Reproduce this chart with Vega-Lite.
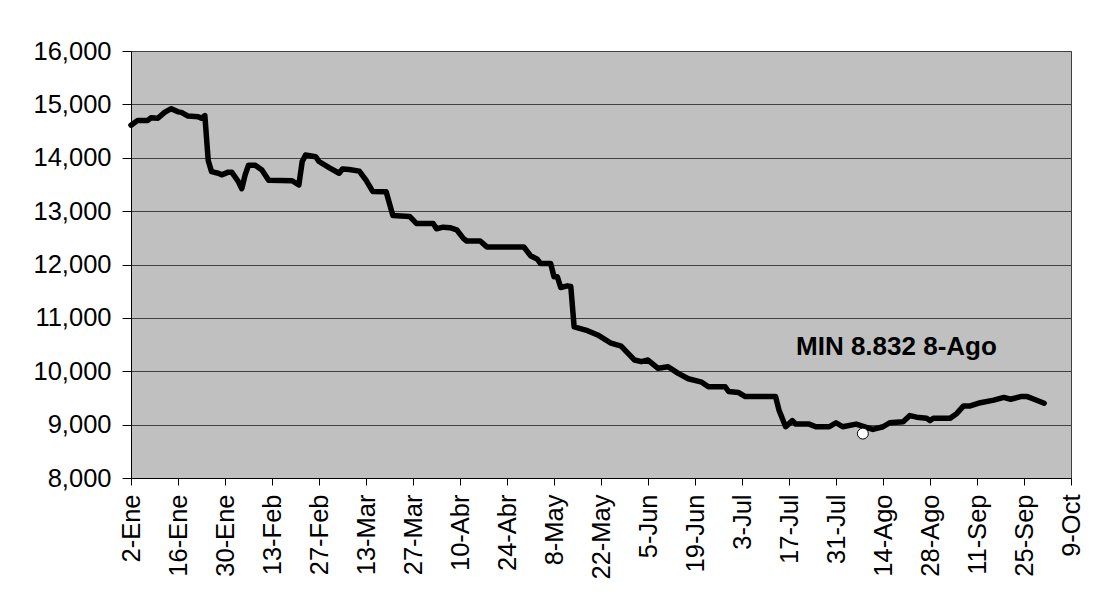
{
  "$schema": "https://vega.github.io/schema/vega-lite/v6.json",
  "width": 940,
  "height": 427,
  "autosize": "none",
  "padding": {"left": 131, "top": 51, "right": 33, "bottom": 125},
  "background": "white",
  "config": {
    "font": "Liberation Sans",
    "view": {"fill": "#C0C0C0", "stroke": "#404040", "strokeWidth": 1},
    "axis": {"labelFont": "Liberation Sans", "labelColor": "black", "domainColor": "black", "tickColor": "black", "gridColor": "#404040", "gridOpacity": 1, "gridWidth": 1}
  },
  "datasets": {
    "series": [
      {"date": "2001-01-02", "value": 14610},
      {"date": "2001-01-04", "value": 14700},
      {"date": "2001-01-07", "value": 14700},
      {"date": "2001-01-08", "value": 14750},
      {"date": "2001-01-10", "value": 14740},
      {"date": "2001-01-12", "value": 14850},
      {"date": "2001-01-14", "value": 14920},
      {"date": "2001-01-16", "value": 14860},
      {"date": "2001-01-17", "value": 14850},
      {"date": "2001-01-19", "value": 14780},
      {"date": "2001-01-22", "value": 14770},
      {"date": "2001-01-23", "value": 14740},
      {"date": "2001-01-24", "value": 14790},
      {"date": "2001-01-25", "value": 13950},
      {"date": "2001-01-26", "value": 13740},
      {"date": "2001-01-28", "value": 13710},
      {"date": "2001-01-29", "value": 13680},
      {"date": "2001-01-31", "value": 13730},
      {"date": "2001-02-01", "value": 13730},
      {"date": "2001-02-03", "value": 13550},
      {"date": "2001-02-04", "value": 13420},
      {"date": "2001-02-05", "value": 13680},
      {"date": "2001-02-06", "value": 13860},
      {"date": "2001-02-08", "value": 13860},
      {"date": "2001-02-10", "value": 13770},
      {"date": "2001-02-12", "value": 13580},
      {"date": "2001-02-19", "value": 13570},
      {"date": "2001-02-21", "value": 13490},
      {"date": "2001-02-22", "value": 13930},
      {"date": "2001-02-23", "value": 14050},
      {"date": "2001-02-26", "value": 14020},
      {"date": "2001-02-27", "value": 13930},
      {"date": "2001-03-02", "value": 13815},
      {"date": "2001-03-05", "value": 13710},
      {"date": "2001-03-06", "value": 13790},
      {"date": "2001-03-08", "value": 13780},
      {"date": "2001-03-11", "value": 13750},
      {"date": "2001-03-13", "value": 13580},
      {"date": "2001-03-15", "value": 13370},
      {"date": "2001-03-19", "value": 13365},
      {"date": "2001-03-21", "value": 12920},
      {"date": "2001-03-26", "value": 12900},
      {"date": "2001-03-28", "value": 12770},
      {"date": "2001-04-02", "value": 12770},
      {"date": "2001-04-03", "value": 12670},
      {"date": "2001-04-05", "value": 12700},
      {"date": "2001-04-07", "value": 12690},
      {"date": "2001-04-09", "value": 12650},
      {"date": "2001-04-11", "value": 12490},
      {"date": "2001-04-12", "value": 12440},
      {"date": "2001-04-16", "value": 12440},
      {"date": "2001-04-18", "value": 12330},
      {"date": "2001-04-29", "value": 12330},
      {"date": "2001-05-01", "value": 12165},
      {"date": "2001-05-03", "value": 12100},
      {"date": "2001-05-04", "value": 12020},
      {"date": "2001-05-07", "value": 12020},
      {"date": "2001-05-08", "value": 11770},
      {"date": "2001-05-09", "value": 11770},
      {"date": "2001-05-10", "value": 11570},
      {"date": "2001-05-12", "value": 11600},
      {"date": "2001-05-13", "value": 11590},
      {"date": "2001-05-14", "value": 10830},
      {"date": "2001-05-18", "value": 10760},
      {"date": "2001-05-21", "value": 10680},
      {"date": "2001-05-25", "value": 10525},
      {"date": "2001-05-28", "value": 10470},
      {"date": "2001-06-01", "value": 10210},
      {"date": "2001-06-03", "value": 10180},
      {"date": "2001-06-05", "value": 10210},
      {"date": "2001-06-08", "value": 10055},
      {"date": "2001-06-11", "value": 10085},
      {"date": "2001-06-14", "value": 9960},
      {"date": "2001-06-17", "value": 9860},
      {"date": "2001-06-21", "value": 9795},
      {"date": "2001-06-23", "value": 9710},
      {"date": "2001-06-28", "value": 9710},
      {"date": "2001-06-29", "value": 9620},
      {"date": "2001-07-02", "value": 9600},
      {"date": "2001-07-04", "value": 9525},
      {"date": "2001-07-13", "value": 9525},
      {"date": "2001-07-14", "value": 9275},
      {"date": "2001-07-16", "value": 8960},
      {"date": "2001-07-18", "value": 9075},
      {"date": "2001-07-19", "value": 9010},
      {"date": "2001-07-23", "value": 9010},
      {"date": "2001-07-25", "value": 8960},
      {"date": "2001-07-29", "value": 8960},
      {"date": "2001-07-31", "value": 9035},
      {"date": "2001-08-02", "value": 8960},
      {"date": "2001-08-06", "value": 9010},
      {"date": "2001-08-09", "value": 8950},
      {"date": "2001-08-11", "value": 8910},
      {"date": "2001-08-14", "value": 8960},
      {"date": "2001-08-16", "value": 9035},
      {"date": "2001-08-20", "value": 9055},
      {"date": "2001-08-22", "value": 9170},
      {"date": "2001-08-24", "value": 9140},
      {"date": "2001-08-27", "value": 9120},
      {"date": "2001-08-28", "value": 9075},
      {"date": "2001-08-29", "value": 9120},
      {"date": "2001-09-03", "value": 9120},
      {"date": "2001-09-05", "value": 9210},
      {"date": "2001-09-07", "value": 9350},
      {"date": "2001-09-09", "value": 9350},
      {"date": "2001-09-12", "value": 9410},
      {"date": "2001-09-16", "value": 9460},
      {"date": "2001-09-19", "value": 9510},
      {"date": "2001-09-21", "value": 9475},
      {"date": "2001-09-24", "value": 9525},
      {"date": "2001-09-26", "value": 9525},
      {"date": "2001-09-28", "value": 9475},
      {"date": "2001-10-01", "value": 9400}
    ],
    "minpoint": [
      {"date": "2001-08-08", "value": 8832}
    ],
    "note": [
      {"date": "2001-08-18", "value": 10305, "label": "MIN 8.832 8-Ago"}
    ]
  },
  "encoding": {
    "x": {
      "field": "date",
      "type": "temporal",
      "scale": {
        "type": "utc",
        "domain": [
          {"year": 2001, "month": 1, "date": 2, "utc": true},
          {"year": 2001, "month": 10, "date": 9, "utc": true}
        ]
      },
      "axis": {
        "title": null,
        "grid": false,
        "labelAngle": -90,
        "labelFontSize": 25.5,
        "tickSize": 7,
        "labelPadding": 9,
        "labelOverlap": false,
        "labelFlush": false,
        "values": [
          {"year": 2001, "month": 1, "date": 2, "utc": true},
          {"year": 2001, "month": 1, "date": 16, "utc": true},
          {"year": 2001, "month": 1, "date": 30, "utc": true},
          {"year": 2001, "month": 2, "date": 13, "utc": true},
          {"year": 2001, "month": 2, "date": 27, "utc": true},
          {"year": 2001, "month": 3, "date": 13, "utc": true},
          {"year": 2001, "month": 3, "date": 27, "utc": true},
          {"year": 2001, "month": 4, "date": 10, "utc": true},
          {"year": 2001, "month": 4, "date": 24, "utc": true},
          {"year": 2001, "month": 5, "date": 8, "utc": true},
          {"year": 2001, "month": 5, "date": 22, "utc": true},
          {"year": 2001, "month": 6, "date": 5, "utc": true},
          {"year": 2001, "month": 6, "date": 19, "utc": true},
          {"year": 2001, "month": 7, "date": 3, "utc": true},
          {"year": 2001, "month": 7, "date": 17, "utc": true},
          {"year": 2001, "month": 7, "date": 31, "utc": true},
          {"year": 2001, "month": 8, "date": 14, "utc": true},
          {"year": 2001, "month": 8, "date": 28, "utc": true},
          {"year": 2001, "month": 9, "date": 11, "utc": true},
          {"year": 2001, "month": 9, "date": 25, "utc": true},
          {"year": 2001, "month": 10, "date": 9, "utc": true}
        ],
        "labelExpr": "utcdate(datum.value) + '-' + ['Ene','Feb','Mar','Abr','May','Jun','Jul','Ago','Sep','Oct','Nov','Dic'][utcmonth(datum.value)]"
      }
    },
    "y": {
      "field": "value",
      "type": "quantitative",
      "scale": {"domain": [8000, 16000], "nice": false, "zero": false},
      "axis": {
        "title": null,
        "values": [8000, 9000, 10000, 11000, 12000, 13000, 14000, 15000, 16000],
        "format": ",.0f",
        "labelFontSize": 25.5,
        "tickSize": 9,
        "labelPadding": 11,
        "grid": true
      }
    }
  },
  "layer": [
    {
      "data": {"name": "series", "format": {"parse": {"date": "utc:'%Y-%m-%d'"}}},
      "mark": {"type": "line", "color": "black", "strokeWidth": 5.5, "strokeJoin": "round", "strokeCap": "round"}
    },
    {
      "data": {"name": "minpoint", "format": {"parse": {"date": "utc:'%Y-%m-%d'"}}},
      "mark": {"type": "point", "filled": true, "fill": "white", "stroke": "black", "strokeWidth": 1, "size": 120, "opacity": 1}
    },
    {
      "data": {"name": "note", "format": {"parse": {"date": "utc:'%Y-%m-%d'"}}},
      "mark": {"type": "text", "font": "Liberation Sans", "fontWeight": "bold", "fontSize": 26, "color": "black", "align": "center", "baseline": "alphabetic"},
      "encoding": {"text": {"field": "label"}}
    }
  ]
}
